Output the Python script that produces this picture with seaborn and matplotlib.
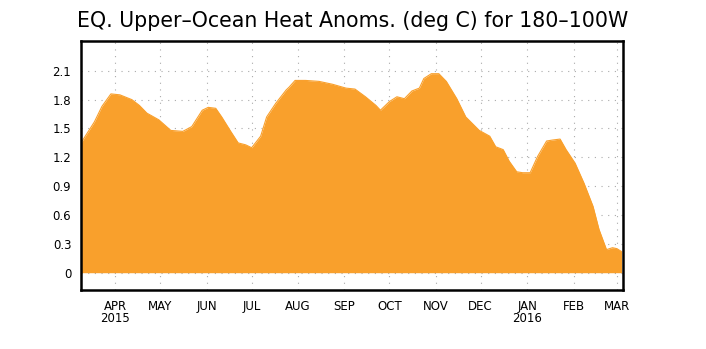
import pandas as pd
import numpy as np
import matplotlib
matplotlib.use("Agg")
import matplotlib.pyplot as plt
import matplotlib.dates as mdates
import seaborn as sns

# valores (anomalia de calor, deg C)
fechas = ["2015-03-09", "2015-03-18", "2015-03-23", "2015-03-29", "2015-04-04",
          "2015-04-12", "2015-04-17", "2015-04-22", "2015-04-30", "2015-05-08",
          "2015-05-16", "2015-05-22", "2015-05-29", "2015-06-02", "2015-06-07",
          "2015-06-11", "2015-06-17", "2015-06-22", "2015-06-27", "2015-07-01",
          "2015-07-07", "2015-07-11", "2015-07-17", "2015-07-24", "2015-07-26",
          "2015-07-30", "2015-08-06", "2015-08-15", "2015-08-24", "2015-09-02",
          "2015-09-08", "2015-09-15", "2015-09-22", "2015-09-25", "2015-10-01",
          "2015-10-06", "2015-10-11", "2015-10-16", "2015-10-21", "2015-10-24",
          "2015-10-29", "2015-11-03", "2015-11-08", "2015-11-15", "2015-11-21",
          "2015-11-30", "2015-12-07", "2015-12-11", "2015-12-16", "2015-12-20",
          "2015-12-25", "2015-12-29", "2016-01-03", "2016-01-08", "2016-01-14",
          "2016-01-18", "2016-01-23", "2016-01-27", "2016-02-02", "2016-02-08",
          "2016-02-14", "2016-02-18", "2016-02-23", "2016-02-27", "2016-03-01",
          "2016-03-04"]
anomalia = [1.35, 1.57, 1.73, 1.86, 1.85,
            1.80, 1.74, 1.66, 1.59, 1.48,
            1.47, 1.52, 1.69, 1.72, 1.71,
            1.62, 1.47, 1.35, 1.33, 1.30,
            1.42, 1.62, 1.76, 1.90, 1.93,
            2.00, 2.00, 1.99, 1.96, 1.92,
            1.91, 1.83, 1.74, 1.69, 1.78,
            1.83, 1.81, 1.89, 1.92, 2.02,
            2.07, 2.07, 1.99, 1.81, 1.62,
            1.48, 1.42, 1.31, 1.28, 1.16,
            1.05, 1.04, 1.04, 1.21, 1.37,
            1.38, 1.39, 1.28, 1.14, 0.93,
            0.69, 0.45, 0.24, 0.26, 0.25,
            0.22]

meses = ["2015-04-01", "2015-05-01", "2015-06-01", "2015-07-01", "2015-08-01",
         "2015-09-01", "2015-10-01", "2015-11-01", "2015-12-01", "2016-01-01",
         "2016-02-01", "2016-03-01"]
etiquetas_meses = ["APR\n2015", "MAY", "JUN", "JUL", "AUG", "SEP", "OCT", "NOV",
                   "DEC", "JAN\n2016", "FEB", "MAR"]
yticks = [0, 0.3, 0.6, 0.9, 1.2, 1.5, 1.8, 2.1]
yetiquetas = ["0", "0.3", "0.6", "0.9", "1.2", "1.5", "1.8", "2.1"]

df = pd.DataFrame({"fecha": pd.to_datetime(fechas), "anom": anomalia})

sns.set_style("white")
plt.rcParams["font.family"] = ["DejaVu Sans"]
plt.rcParams["text.color"] = "black"

naranja = "#F9A02C"
fig = plt.figure(figsize=(7.06, 3.49), dpi=100)
ax = fig.add_axes([0.1147, 0.169, 0.7677, 0.7135])

sns.lineplot(data=df, x="fecha", y="anom", ax=ax, color=naranja, linewidth=0.8)
ax.fill_between(df["fecha"], 0, df["anom"], color=naranja, linewidth=0, zorder=2)

ax.set_xlim(pd.Timestamp("2015-03-09"), pd.Timestamp("2016-03-05"))
ax.set_ylim(-0.18, 2.41)

ax.set_xticks(pd.to_datetime(meses))
ax.set_xticklabels(etiquetas_meses, fontsize=8.5, linespacing=0.95)
ax.set_yticks(yticks)
ax.set_yticklabels(yetiquetas, fontsize=8.5)
ax.tick_params(axis="both", direction="out", length=4, width=0.8, colors="black",
               labelcolor="black", pad=3)

ax.grid(True, color="#aaaaaa", linestyle=(0, (1, 5)), linewidth=0.8, zorder=0)
ax.set_axisbelow(True)
for s in ax.spines.values():
    s.set_visible(True)
    s.set_color("black")
    s.set_linewidth(1.8)

ax.set_xlabel("")
ax.set_ylabel("")
fig.text(0.5, 0.94, "EQ. Upper\u2013Ocean Heat Anoms. (deg C) for 180\u2013100W",
         ha="center", va="center", fontsize=14.8, color="black")

fig.savefig("out.png", dpi=100)
